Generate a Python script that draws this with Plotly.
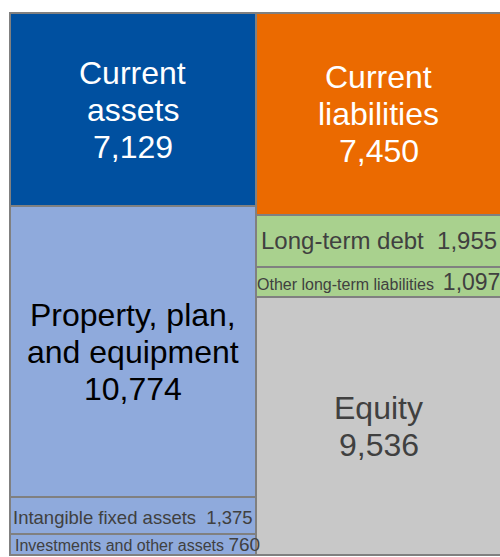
import plotly.graph_objects as go

# Data
asset_labels = ["Current\nassets", "Property, plan,\nand equipment", "Intangible fixed assets", "Investments and other assets"]
asset_values = [7129, 10774, 1375, 760]
liab_labels = ["Current\nliabilities", "Long-term debt", "Other long-term liabilities", "Equity"]
liab_values = [7450, 1955, 1097, 9536]

asset_colors = ["#0050A0", "#8FAADC", "#8FAADC", "#8FAADC"]
liab_colors = ["#EB6A00", "#A9D18E", "#A9D18E", "#C8C8C8"]
border = "#808080"
FONT = "Liberation Sans, Arial, sans-serif"
LINE = 37  # px between stacked label lines

fig = go.Figure()
annotations = []


def add_column(xpos, labels, values, colors, styles):
    top = sum(values)
    segs = []
    for lab, v, c, st in zip(labels, values, colors, styles):
        segs.append((lab, v, c, st, top - v / 2))
        top -= v
    # stacked bars are drawn bottom-up
    for lab, v, c, st, mid in reversed(segs):
        fig.add_trace(go.Bar(x=[xpos], y=[v], width=1,
                             marker=dict(color=c, line=dict(color=border, width=2)),
                             hoverinfo="skip", showlegend=False))
    for lab, v, c, st, mid in segs:
        if st.get("stack"):
            lines = lab.split("\n") + [f"{v:,}"]
        else:
            lines = [st["fmt"].format(label=lab, value=f"{v:,}")]
        n = len(lines)
        for i, line in enumerate(lines):
            annotations.append(dict(
                x=xpos + st.get("dx", 0), y=mid, xref="x", yref="y",
                yshift=-(i - (n - 1) / 2) * LINE + st.get("dy", 0),
                text=line, showarrow=False,
                font=dict(family=FONT, size=st["size"], color=st["color"]),
                align="center"))


asset_styles = [
    dict(stack=True, size=32, color="#FFFFFF", dy=-1),
    dict(stack=True, size=32, color="#000000"),
    dict(fmt="{label}  {value}", size=18.5, color="#404040", dy=-2),
    dict(fmt="{label} <span style='font-size:19px'>{value}</span>", size=16, color="#404040", dx=0.02),
]
liab_styles = [
    dict(stack=True, size=32, color="#FFFFFF"),
    dict(fmt="{label}  {value}", size=24, color="#404040"),
    dict(fmt="{label}  <span style='font-size:23px'>{value}</span>", size=16, color="#404040"),
    dict(stack=True, size=32, color="#404040"),
]

add_column(0, asset_labels, asset_values, asset_colors, asset_styles)
add_column(1, liab_labels, liab_values, liab_colors, liab_styles)

fig.update_layout(
    width=500, height=557,
    margin=dict(l=8, r=0, t=11, b=0),
    barmode="stack", bargap=0,
    paper_bgcolor="white", plot_bgcolor="white",
    xaxis=dict(range=[-0.5081, 1.4919], visible=False, fixedrange=True),
    yaxis=dict(range=[-74, 20112], visible=False, fixedrange=True),
    annotations=annotations,
    showlegend=False,
)

fig.write_html(
    "out.html",
    config={"displayModeBar": False, "staticPlot": True},
    post_script=("document.documentElement.style.margin='0';"
                 "document.body.style.margin='0';"
                 "document.documentElement.style.overflow='hidden';"
                 "document.body.style.overflow='hidden';"),
)
